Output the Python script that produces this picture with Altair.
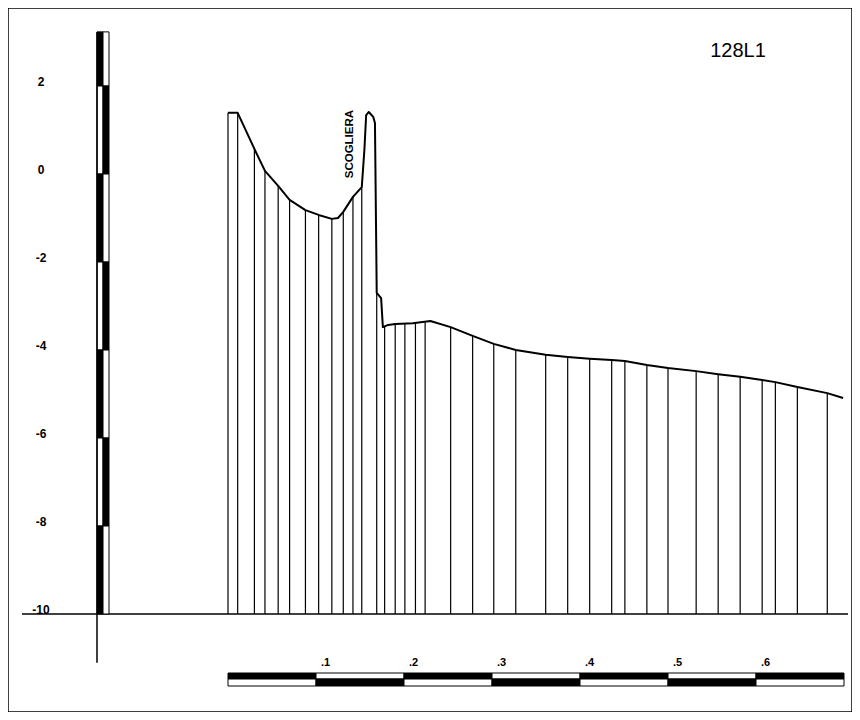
import altair as alt
import pandas as pd

# ---- data ----
# profile: distance (km) and elevation (m)
profile_dist = [0.000, 0.011, 0.030, 0.042, 0.057, 0.070, 0.088, 0.103, 0.118, 0.125,
                0.131, 0.142, 0.152, 0.155, 0.157, 0.160, 0.165, 0.167, 0.169, 0.174,
                0.176, 0.182, 0.190, 0.210, 0.230, 0.253, 0.278, 0.302, 0.327, 0.361,
                0.386, 0.411, 0.436, 0.451, 0.476, 0.500, 0.532, 0.557, 0.582, 0.607,
                0.622, 0.647, 0.681, 0.699]
profile_elev = [1.39, 1.39, 0.57, 0.07, -0.27, -0.59, -0.82, -0.93, -1.02, -1.00,
                -0.86, -0.52, -0.30, 0.55, 1.34, 1.41, 1.30, 1.16, -2.70, -2.82,
                -3.48, -3.43, -3.41, -3.39, -3.34, -3.48, -3.68, -3.86, -4.00, -4.11,
                -4.16, -4.20, -4.23, -4.25, -4.34, -4.41, -4.48, -4.55, -4.61, -4.68,
                -4.73, -4.84, -4.98, -5.09]

# vertical hatch lines: distance and top elevation
hatch_dist = [0.000, 0.011, 0.030, 0.042, 0.057, 0.070, 0.088, 0.103, 0.118, 0.131,
              0.142, 0.152, 0.169, 0.178, 0.190, 0.201, 0.213, 0.224, 0.253, 0.278,
              0.302, 0.327, 0.361, 0.386, 0.411, 0.436, 0.451, 0.476, 0.500, 0.532,
              0.557, 0.582, 0.607, 0.622, 0.647, 0.681]
hatch_top = [1.39, 1.39, 0.57, 0.07, -0.27, -0.59, -0.82, -0.93, -1.02, -0.86,
             -0.52, -0.30, -2.70, -3.48, -3.41, -3.39, -3.39, -3.34, -3.48, -3.68,
             -3.86, -4.00, -4.11, -4.16, -4.20, -4.23, -4.25, -4.34, -4.41, -4.48,
             -4.55, -4.61, -4.68, -4.73, -4.84, -4.98]
base_level = -10

y_ticks = [2, 0, -2, -4, -6, -8, -10]
y_tick_labels = ["2", "0", "-2", "-4", "-6", "-8", "-10"]

vbar_top = [3.23, 2, 0, -2, -4, -6, -8]
vbar_bottom = [2, 0, -2, -4, -6, -8, -10]
vaxis_top = 3.23
vaxis_bottom = -11.11

hbar_start = [0.0, 0.1, 0.2, 0.3, 0.4, 0.5, 0.6]
hbar_end = [0.1, 0.2, 0.3, 0.4, 0.5, 0.6, 0.7]
hbar_label_pos = [0.1, 0.2, 0.3, 0.4, 0.5, 0.6]
hbar_labels = [".1", ".2", ".3", ".4", ".5", ".6"]

annot_text = ["SCOGLIERA"]
annot_dist = [0.139]
annot_elev = [0.68]
title_text = ["128L1"]

# ---- scales ----
W, H = 844, 704
x_scale = alt.Scale(domain=[(8 - 228) / 880, (852 - 228) / 880], nice=False, zero=False)
y_scale = alt.Scale(domain=[(174 - 712) / 44, (174 - 8) / 44], nice=False, zero=False)
FONT = "Liberation Sans"

df_prof = pd.DataFrame({"d": profile_dist, "v": profile_elev, "i": range(len(profile_dist))})
df_hatch = pd.DataFrame({"d": hatch_dist, "v": hatch_top, "b": [base_level] * len(hatch_dist)})
df_base = pd.DataFrame({"v": [base_level]})
df_ticks = pd.DataFrame({"v": y_ticks, "t": y_tick_labels})
df_vbar = pd.DataFrame({
    "top": vbar_top, "bot": vbar_bottom,
    "lf": ["black" if i % 2 == 0 else "white" for i in range(len(vbar_top))],
    "rf": ["white" if i % 2 == 0 else "black" for i in range(len(vbar_top))],
})
df_vaxis = pd.DataFrame({"top": [vaxis_top], "bot": [vaxis_bottom]})
df_hbar = pd.DataFrame({
    "s": hbar_start, "e": hbar_end,
    "tf": ["black" if i % 2 == 0 else "white" for i in range(len(hbar_start))],
    "bf": ["white" if i % 2 == 0 else "black" for i in range(len(hbar_start))],
})
df_hlab = pd.DataFrame({"d": hbar_label_pos, "t": hbar_labels})
df_annot = pd.DataFrame({"d": annot_dist, "v": annot_elev, "t": annot_text})
df_title = pd.DataFrame({"t": title_text})
df_frame = pd.DataFrame({"k": [1]})

X = lambda f: alt.X(f, type="quantitative", scale=x_scale, axis=None)
Y = lambda f: alt.Y(f, type="quantitative", scale=y_scale, axis=None)

frame = alt.Chart(df_frame).mark_rect(fill="white", stroke="black", strokeWidth=1.5).encode(
    x=alt.value(0), x2=alt.value(W), y=alt.value(0), y2=alt.value(H))

hatch = alt.Chart(df_hatch).mark_rule(color="black", strokeWidth=1.2).encode(
    x=X("d"), y=Y("v"), y2="b")

base = alt.Chart(df_base).mark_rule(color="black", strokeWidth=1.5).encode(
    y=Y("v"), x=alt.value(14), x2=alt.value(840))

prof = alt.Chart(df_prof).mark_line(color="black", strokeWidth=2, strokeJoin="round").encode(
    x=X("d"), y=Y("v"), order="i:Q")

vbar_l = alt.Chart(df_vbar).mark_rect(stroke="black", strokeWidth=1).encode(
    y=Y("top"), y2="bot", x=alt.value(89), x2=alt.value(95),
    fill=alt.Fill("lf:N", scale=None))
vbar_r = alt.Chart(df_vbar).mark_rect(stroke="black", strokeWidth=1).encode(
    y=Y("top"), y2="bot", x=alt.value(95), x2=alt.value(101),
    fill=alt.Fill("rf:N", scale=None))
vaxis = alt.Chart(df_vaxis).mark_rule(color="black", strokeWidth=1.5).encode(
    y=Y("top"), y2="bot", x=alt.value(89))

ylab = alt.Chart(df_ticks).mark_text(font=FONT, fontSize=12, fontWeight="bold",
                                      align="center", baseline="middle", dy=-4).encode(
    y=Y("v"), x=alt.value(33), text="t:N")

hbar_t = alt.Chart(df_hbar).mark_rect(stroke="black", strokeWidth=1).encode(
    x=X("s"), x2="e", y=alt.value(665), y2=alt.value(671),
    fill=alt.Fill("tf:N", scale=None))
hbar_b = alt.Chart(df_hbar).mark_rect(stroke="black", strokeWidth=1).encode(
    x=X("s"), x2="e", y=alt.value(671), y2=alt.value(678),
    fill=alt.Fill("bf:N", scale=None))
hlab = alt.Chart(df_hlab).mark_text(font=FONT, fontSize=11, fontWeight="bold",
                                     align="left", baseline="middle", dx=5).encode(
    x=X("d"), y=alt.value(655), text="t:N")

annot = alt.Chart(df_annot).mark_text(font=FONT, fontSize=11.5, fontWeight="bold",
                                       angle=270, align="center", baseline="middle").encode(
    x=X("d"), y=Y("v"), text="t:N")

title = alt.Chart(df_title).mark_text(font=FONT, fontSize=20, align="center",
                                       baseline="middle").encode(
    x=alt.value(730), y=alt.value(43), text="t:N")

chart = alt.layer(frame, hatch, base, prof, vbar_l, vbar_r, vaxis, ylab,
                  hbar_t, hbar_b, hlab, annot, title).properties(
    width=W, height=H, padding=0, autosize=alt.AutoSizeParams(type="none")
).configure_view(stroke=None).configure(background="white")

chart.save("out.html", embed_options={"renderer": "svg", "actions": False})
